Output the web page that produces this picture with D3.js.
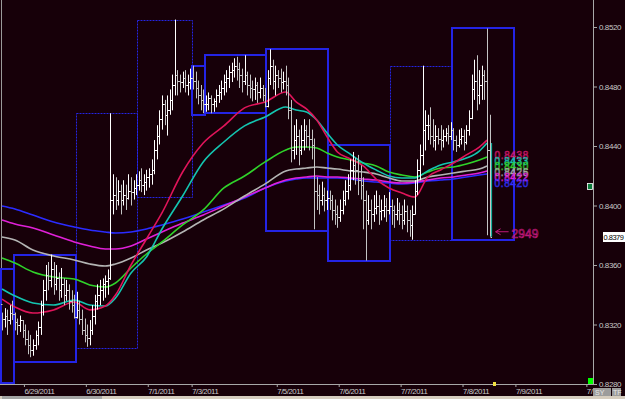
<!DOCTYPE html>
<html>
<head>
<meta charset="utf-8">
<script src="https://cdn.jsdelivr.net/npm/d3@7"></script>
<style>
  html, body { margin: 0; padding: 0; background: #170009; }
  svg { display: block; }
  text { font-family: "Liberation Sans", Arial, sans-serif; }
</style>
</head>
<body>
<div id="chart"></div>
<script>
//---------------------------DATA--------------------------------------------------------
// hourly bars, the open of a bar is the close of the bar before it
const firstOpen = 0.8334;
const barHigh = [
  0.8328, 0.8331, 0.8330, 0.8333, 0.8336,
  0.8328, 0.8324, 0.8326, 0.8323, 0.8320, 0.8316, 0.8313, 0.8310, 0.8316, 0.8322,
  0.8336, 0.8350, 0.8360, 0.8362, 0.8367, 0.8362, 0.8360, 0.8355, 0.8358, 0.8351,
  0.8350, 0.8347, 0.8343, 0.8340,
  0.8342, 0.8336, 0.8330, 0.8324, 0.8320, 0.8323, 0.8333, 0.8340, 0.8347, 0.8350,
  0.8351, 0.8353, 0.8357, 0.8462, 0.8421, 0.8419, 0.8417, 0.8414, 0.8417, 0.8414,
  0.8421, 0.8419, 0.8417, 0.8421,
  0.8423, 0.8425, 0.8421, 0.8424, 0.8425, 0.8431, 0.8444, 0.8454, 0.8464, 0.8474,
  0.8471, 0.8474, 0.8478, 0.8488, 0.8525, 0.8491, 0.8488, 0.8490, 0.8491, 0.8488, 0.8492,
  0.8494, 0.8490, 0.8484, 0.8481, 0.8478,
  0.8474, 0.8476, 0.8474, 0.8472, 0.8478, 0.8481, 0.8484, 0.8488, 0.8491, 0.8494,
  0.8496, 0.8499, 0.8500, 0.8496, 0.8492, 0.8501, 0.8490, 0.8488, 0.8484, 0.8486,
  0.8483, 0.8486, 0.8481, 0.8479,
  0.8491, 0.8505, 0.8498, 0.8494, 0.8491, 0.8492, 0.8490, 0.8494, 0.8486, 0.8471,
  0.8454, 0.8458, 0.8451, 0.8454, 0.8458, 0.8454, 0.8458, 0.8451, 0.8445, 0.8419,
  0.8414, 0.8416, 0.8412, 0.8410,
  0.8410, 0.8407, 0.8404, 0.8400, 0.8404, 0.8410, 0.8417, 0.8421, 0.8431, 0.8436,
  0.8432, 0.8434, 0.8427, 0.8419, 0.8410, 0.8407, 0.8404, 0.8407, 0.8410, 0.8407,
  0.8404, 0.8407, 0.8405, 0.8409,
  0.8404, 0.8400, 0.8405, 0.8402, 0.8400, 0.8404, 0.8400, 0.8397, 0.8400, 0.8417,
  0.8431, 0.8441, 0.8494, 0.8464, 0.8461, 0.8466, 0.8458, 0.8454, 0.8452, 0.8454,
  0.8451, 0.8452, 0.8454, 0.8456,
  0.8452, 0.8447, 0.8451, 0.8452, 0.8451, 0.8454, 0.8464, 0.8488, 0.8498, 0.8501,
  0.8491, 0.8494, 0.8491, 0.8519, 0.8461
];
const barLow = [
  0.8316, 0.8318, 0.8313, 0.8320, 0.8323,
  0.8316, 0.8313, 0.8315, 0.8311, 0.8306, 0.8300, 0.8298, 0.8299, 0.8303, 0.8306,
  0.8313, 0.8326, 0.8336, 0.8343, 0.8345, 0.8340, 0.8343, 0.8336, 0.8338, 0.8333,
  0.8336, 0.8330, 0.8328, 0.8324,
  0.8324, 0.8320, 0.8313, 0.8308, 0.8305, 0.8306, 0.8313, 0.8320, 0.8330, 0.8333,
  0.8336, 0.8338, 0.8340, 0.8350, 0.8394, 0.8397, 0.8400, 0.8394, 0.8400, 0.8397,
  0.8404, 0.8400, 0.8404, 0.8407,
  0.8410, 0.8409, 0.8407, 0.8410, 0.8412, 0.8414, 0.8421, 0.8431, 0.8441, 0.8451,
  0.8454, 0.8447, 0.8461, 0.8464, 0.8474, 0.8474, 0.8476, 0.8479, 0.8476, 0.8474, 0.8478,
  0.8478, 0.8472, 0.8468, 0.8464, 0.8462,
  0.8463, 0.8464, 0.8462, 0.8463, 0.8466, 0.8469, 0.8471, 0.8474, 0.8476, 0.8479,
  0.8483, 0.8486, 0.8484, 0.8479, 0.8476, 0.8481, 0.8474, 0.8472, 0.8470, 0.8471,
  0.8469, 0.8472, 0.8470, 0.8466,
  0.8466, 0.8481, 0.8478, 0.8474, 0.8479, 0.8476, 0.8478, 0.8474, 0.8458, 0.8429,
  0.8431, 0.8434, 0.8427, 0.8434, 0.8437, 0.8439, 0.8437, 0.8431, 0.8384, 0.8397,
  0.8394, 0.8400, 0.8396, 0.8397,
  0.8397, 0.8390, 0.8387, 0.8385, 0.8389, 0.8394, 0.8400, 0.8404, 0.8410, 0.8417,
  0.8414, 0.8407, 0.8404, 0.8384, 0.8363, 0.8387, 0.8384, 0.8389, 0.8394, 0.8387,
  0.8390, 0.8392, 0.8389, 0.8394,
  0.8387, 0.8385, 0.8390, 0.8387, 0.8384, 0.8387, 0.8382, 0.8379, 0.8377, 0.8394,
  0.8407, 0.8417, 0.8427, 0.8437, 0.8444, 0.8441, 0.8439, 0.8437, 0.8441, 0.8437,
  0.8439, 0.8443, 0.8441, 0.8444,
  0.8437, 0.8436, 0.8439, 0.8441, 0.8437, 0.8441, 0.8447, 0.8458, 0.8471, 0.8464,
  0.8468, 0.8471, 0.8471, 0.8380, 0.8379
];
const barClose = [
  0.8324, 0.8326, 0.8323, 0.8328, 0.8327,
  0.8322, 0.8320, 0.8323, 0.8316, 0.8310, 0.8306, 0.8303, 0.8306, 0.8313, 0.8318,
  0.8333, 0.8343, 0.8353, 0.8350, 0.8357, 0.8347, 0.8351, 0.8343, 0.8347, 0.8340,
  0.8343, 0.8336, 0.8333, 0.8325,
  0.8330, 0.8324, 0.8316, 0.8313, 0.8311, 0.8316, 0.8326, 0.8336, 0.8340, 0.8343,
  0.8347, 0.8349, 0.8351, 0.8404, 0.8407, 0.8404, 0.8410, 0.8404, 0.8407, 0.8405,
  0.8410, 0.8409, 0.8412, 0.8414,
  0.8417, 0.8414, 0.8416, 0.8419, 0.8421, 0.8424, 0.8437, 0.8447, 0.8458, 0.8468,
  0.8461, 0.8464, 0.8471, 0.8481, 0.8488, 0.8484, 0.8483, 0.8486, 0.8481, 0.8483, 0.8486,
  0.8484, 0.8479, 0.8474, 0.8471, 0.8468,
  0.8468, 0.8472, 0.8468, 0.8470, 0.8474, 0.8476, 0.8479, 0.8483, 0.8486, 0.8490,
  0.8491, 0.8494, 0.8492, 0.8488, 0.8484, 0.8488, 0.8481, 0.8479, 0.8478, 0.8481,
  0.8476, 0.8479, 0.8474, 0.8467,
  0.8486, 0.8494, 0.8484, 0.8488, 0.8486, 0.8483, 0.8484, 0.8481, 0.8464, 0.8437,
  0.8444, 0.8447, 0.8437, 0.8444, 0.8451, 0.8447, 0.8445, 0.8441, 0.8410, 0.8407,
  0.8404, 0.8407, 0.8404, 0.8405,
  0.8404, 0.8397, 0.8394, 0.8392, 0.8397, 0.8404, 0.8410, 0.8414, 0.8424, 0.8427,
  0.8424, 0.8417, 0.8414, 0.8404, 0.8390, 0.8397, 0.8394, 0.8398, 0.8400, 0.8396,
  0.8397, 0.8400, 0.8397, 0.8400,
  0.8397, 0.8394, 0.8397, 0.8394, 0.8390, 0.8396, 0.8390, 0.8387, 0.8394, 0.8410,
  0.8424, 0.8434, 0.8451, 0.8454, 0.8454, 0.8447, 0.8444, 0.8447, 0.8445, 0.8444,
  0.8447, 0.8449, 0.8447, 0.8451,
  0.8444, 0.8441, 0.8445, 0.8447, 0.8443, 0.8451, 0.8459, 0.8478, 0.8484, 0.8474,
  0.8481, 0.8488, 0.8484, 0.8437, 0.8379
];

// trading sessions (first and last bar index) with their high/low boxes
const sessionFirst = [0, 5, 29, 53, 74, 79, 103, 127, 151, 175];
const sessionLast = [4, 28, 52, 73, 78, 102, 126, 150, 174, 198];
const sessionHigh = [0.8357, 0.8367, 0.8462, 0.8525, 0.8494, 0.8501, 0.8505, 0.8441, 0.8494, 0.8519];
const sessionLow = [0.8281, 0.8295, 0.8304, 0.8406, 0.8461, 0.8462, 0.8383, 0.8363, 0.8377, 0.8377];

// moving averages, read at these bar indices
const maBars = [0, 5, 12, 20, 28, 34, 40, 44, 50, 56, 62, 70, 78, 86, 94, 102, 110,
  114, 118, 122, 126, 130, 135, 140, 145, 150, 155, 160, 165, 170, 175, 180, 185, 188];
const maRed = [0.83371, 0.83318, 0.83277, 0.83298, 0.83351, 0.83298, 0.83324, 0.83398, 0.83600,
  0.83775, 0.83950, 0.84225, 0.84420, 0.84535, 0.84656, 0.84696, 0.84763, 0.84696, 0.84649,
  0.84575, 0.84461, 0.84360, 0.84313, 0.84266, 0.84178, 0.84118, 0.84084, 0.84057, 0.84192,
  0.84239, 0.84286, 0.84340, 0.84393, 0.84440];
const maTeal = [0.83439, 0.83392, 0.83345, 0.83331, 0.83365, 0.83331, 0.83324, 0.83378, 0.83546,
  0.83654, 0.83842, 0.84064, 0.84293, 0.84427, 0.84535, 0.84595, 0.84662, 0.84642, 0.84629,
  0.84575, 0.84487, 0.84407, 0.84346, 0.84286, 0.84239, 0.84198, 0.84185, 0.84185, 0.84232,
  0.84272, 0.84293, 0.84319, 0.84366, 0.84420];
const maGreen = [0.83647, 0.83613, 0.83553, 0.83519, 0.83506, 0.83466, 0.83452, 0.83479, 0.83580,
  0.83674, 0.83755, 0.83869, 0.83970, 0.84118, 0.84198, 0.84293, 0.84373, 0.84393, 0.84393,
  0.84387, 0.84353, 0.84326, 0.84306, 0.84286, 0.84266, 0.84225, 0.84205, 0.84192, 0.84225,
  0.84252, 0.84259, 0.84279, 0.84306, 0.84326];
const maGray = [0.83788, 0.83768, 0.83701, 0.83661, 0.83634, 0.83607, 0.83593, 0.83607, 0.83647,
  0.83701, 0.83748, 0.83822, 0.83903, 0.83977, 0.84064, 0.84145, 0.84232, 0.84245, 0.84252,
  0.84259, 0.84252, 0.84245, 0.84232, 0.84225, 0.84212, 0.84185, 0.84165, 0.84165, 0.84192,
  0.84205, 0.84219, 0.84232, 0.84245, 0.84266];
const maMagenta = [0.83903, 0.83876, 0.83849, 0.83802, 0.83755, 0.83728, 0.83708, 0.83708, 0.83728,
  0.83775, 0.83822, 0.83882, 0.83936, 0.83997, 0.84057, 0.84118, 0.84171, 0.84185, 0.84192,
  0.84198, 0.84192, 0.84192, 0.84185, 0.84178, 0.84171, 0.84158, 0.84151, 0.84158, 0.84171,
  0.84185, 0.84192, 0.84205, 0.84219, 0.84232];
const maBlue = [0.83997, 0.83977, 0.83936, 0.83889, 0.83856, 0.83835, 0.83822, 0.83815, 0.83822,
  0.83842, 0.83869, 0.83909, 0.83956, 0.84003, 0.84050, 0.84118, 0.84165, 0.84178, 0.84185,
  0.84185, 0.84185, 0.84185, 0.84178, 0.84165, 0.84158, 0.84151, 0.84145, 0.84151, 0.84165,
  0.84171, 0.84178, 0.84192, 0.84205, 0.84212];
const maLabels = ["0.8438", "0.8433", "0.8430", "0.8426", "0.8422", "0.8420"];

// axes
const priceTicks = [0.8280, 0.8320, 0.8360, 0.8400, 0.8440, 0.8480, 0.8520];
const dateLabels = ["6/29/2011", "6/30/2011", "7/1/2011", "7/3/2011", "7/5/2011",
  "7/6/2011", "7/7/2011", "7/8/2011", "7/9/2011", "7/10/2011"];
const dateBars = [8.5, 32.5, 56.5, 73.5, 106.5, 130.5, 154.5, 178.5, 199, 226.5];
const lastPrice = 0.8379;
const counterText = "2949";

//---------------------------CHART--------------------------------------------------------
const W = 625, H = 399;
const plotRight = 593, plotBottom = 384;
const bg = "#170009";
const boxColor = "#2424e4";

const svg = d3.select("#chart")
    .append("svg")
    .attr("width", W)
    .attr("height", H);

svg.append("rect").attr("width", W).attr("height", H).attr("fill", bg);

svg.append("clipPath").attr("id", "plotclip")
    .append("rect").attr("x", 0).attr("y", 0).attr("width", plotRight).attr("height", plotBottom);
svg.append("clipPath").attr("id", "dateclip")
    .append("rect").attr("x", 0).attr("y", plotBottom).attr("width", plotRight).attr("height", 12);

const x = d3.scaleLinear().domain([0, 227]).range([2, 2 + 227 * 2.58]);
const y = d3.scaleLinear().domain([0.8280, 0.8520]).range([plotBottom, 27]);

const plot = svg.append("g").attr("clip-path", "url(#plotclip)");

// left border line
plot.append("line")
    .attr("x1", 1.5).attr("x2", 1.5).attr("y1", 0).attr("y2", plotBottom)
    .attr("stroke", "#9a9a9a").attr("stroke-width", 1);

// session boxes: up sessions thin dotted, down sessions thick solid
const sessions = sessionFirst.map((f, k) => {
    const last = Math.min(sessionLast[k], barClose.length - 1);
    const open = f === 0 ? firstOpen : barClose[f - 1];
    return {
        x0: Math.max(x(f - 0.5), 0),
        x1: x(sessionLast[k] + 0.5),
        hi: sessionHigh[k],
        lo: sessionLow[k],
        down: barClose[last] < open
    };
});
sessions.sort((a, b) => (a.down === b.down ? 0 : a.down ? 1 : -1));

plot.selectAll("rect.session")
    .data(sessions)
    .join("rect")
    .attr("class", "session")
    .attr("x", d => Math.round(d.x0) + (d.down ? 0 : 0.5))
    .attr("y", d => Math.round(y(d.hi)) + (d.down ? 0 : 0.5))
    .attr("width", d => Math.round(d.x1) - Math.round(d.x0))
    .attr("height", d => Math.round(y(d.lo)) - Math.round(y(d.hi)))
    .attr("fill", "none")
    .attr("stroke", boxColor)
    .attr("stroke-width", d => d.down ? 2 : 1)
    .attr("stroke-dasharray", d => d.down ? null : "2,1");

// moving averages
const maSeries = [
    { values: maBlue, color: "#2b2bff" },
    { values: maMagenta, color: "#e020d8" },
    { values: maGray, color: "#b4b4b4" },
    { values: maGreen, color: "#30d22a" },
    { values: maTeal, color: "#14c4b0" },
    { values: maRed, color: "#e0145a" }
];
const maLine = d3.line()
    .x((d, i) => x(maBars[i]))
    .y(d => y(d))
    .curve(d3.curveMonotoneX);

plot.selectAll("path.ma")
    .data(maSeries)
    .join("path")
    .attr("class", "ma")
    .attr("d", d => maLine(d.values))
    .attr("fill", "none")
    .attr("stroke", d => d.color)
    .attr("stroke-width", 1.6);

// OHLC bars
const bars = barHigh.map((h, i) => ({
    i: i,
    open: i === 0 ? firstOpen : barClose[i - 1],
    high: h,
    low: barLow[i],
    close: barClose[i]
}));

function barPath(d) {
    const cx = Math.round(x(d.i)) + 0.5;
    const yo = Math.round(y(d.open)) + 0.5;
    const yc = Math.round(y(d.close)) + 0.5;
    return `M${cx},${y(d.high)}V${y(d.low)}` +
        `M${cx - 1.5},${yo}H${cx}` +
        `M${cx},${yc}H${cx + 1.5}`;
}

plot.selectAll("path.bar")
    .data(bars)
    .join("path")
    .attr("class", "bar")
    .attr("d", barPath)
    .attr("fill", "none")
    .attr("stroke", d => d.close >= d.open ? "#ffffff" : "#c4c4c4")
    .attr("stroke-width", 1);

// last price marker line and counter arrow
const lastX = x(bars.length - 1) + 2;
plot.append("line")
    .attr("x1", lastX).attr("x2", lastX)
    .attr("y1", y(maTeal[maTeal.length - 1])).attr("y2", y(lastPrice))
    .attr("stroke", "#14c4b0").attr("stroke-width", 1);

const arrowY = y(lastPrice) - 5;
plot.append("path")
    .attr("d", `M${lastX + 4},${arrowY}H${lastX + 17}M${lastX + 4},${arrowY}l5,-3M${lastX + 4},${arrowY}l5,3`)
    .attr("stroke", "#c0187a").attr("stroke-width", 1).attr("fill", "none");

plot.append("text")
    .attr("x", lastX + 20).attr("y", arrowY + 6)
    .attr("font-size", 12)
    .attr("font-family", "DejaVu Sans Mono, monospace")
    .attr("fill", "none").attr("stroke", "#c0187a").attr("stroke-width", 0.7)
    .text(counterText);

// moving average value labels (stacked, hollow like the terminal font)
const labelColors = ["#d0186a", "#14c4b0", "#30d22a", "#a8a8a8", "#e020d8", "#3030ff"];
plot.selectAll("text.malabel")
    .data(maLabels)
    .join("text")
    .attr("class", "malabel")
    .attr("x", lastX + 3)
    .attr("y", (d, i) => 159 + i * 5.6)
    .attr("font-size", 10)
    .attr("letter-spacing", "0.6px")
    .attr("font-family", "DejaVu Sans Mono, monospace")
    .attr("fill", "none")
    .attr("stroke", (d, i) => labelColors[i])
    .attr("stroke-width", 0.6)
    .text(d => d);

// axis frame lines
svg.append("line")
    .attr("x1", plotRight + 0.5).attr("x2", plotRight + 0.5).attr("y1", 0).attr("y2", plotBottom)
    .attr("stroke", "#a8a8a8");
svg.append("line")
    .attr("x1", 0).attr("x2", plotRight).attr("y1", plotBottom + 0.5).attr("y2", plotBottom + 0.5)
    .attr("stroke", "#a8a8a8");

// price axis
const yAxis = d3.axisRight(y)
    .tickValues(priceTicks)
    .tickSize(4)
    .tickPadding(2)
    .tickFormat(d3.format(".4f"));
const yg = svg.append("g").attr("transform", `translate(${plotRight},0)`).call(yAxis);
yg.select(".domain").remove();
yg.selectAll(".tick line").attr("stroke", "#a8a8a8");
yg.selectAll(".tick text")
    .attr("fill", "#c8c8c8")
    .attr("font-size", 8)
    .attr("letter-spacing", "-0.4px")
    .attr("font-family", "Liberation Sans, Arial, sans-serif");

// date axis (clipped at the price scale like the terminal does)
const xAxis = d3.axisBottom(x)
    .tickValues(dateBars)
    .tickSize(3)
    .tickFormat((d, i) => dateLabels[i]);
const xg = svg.append("g")
    .attr("clip-path", "url(#dateclip)")
    .append("g")
    .attr("transform", `translate(0,${plotBottom})`)
    .call(xAxis);
xg.select(".domain").remove();
xg.selectAll(".tick line").attr("stroke", "#a8a8a8");
xg.selectAll(".tick text")
    .attr("fill", "#cacaca")
    .attr("font-size", 7.8)
    .attr("letter-spacing", "-0.45px")
    .attr("font-family", "Liberation Sans, Arial, sans-serif")
    .attr("text-anchor", "start")
    .attr("x", 0)
    .attr("y", 9.5)
    .attr("dy", 0);

// current price box
const py = Math.round(y(lastPrice));
svg.append("rect")
    .attr("x", 603).attr("y", py - 5).attr("width", 22).attr("height", 10)
    .attr("fill", "#ffffff");
svg.append("text")
    .attr("x", 603.5).attr("y", py + 3)
    .attr("font-size", 7.5).attr("letter-spacing", "-0.5px")
    .attr("fill", "#000000")
    .text(d3.format(".4f")(lastPrice));

// small widgets: scroll icon, green marker, yellow marker, SY/TF buttons
svg.append("rect").attr("x", 587.5).attr("y", 183.5).attr("width", 5).attr("height", 6)
    .attr("fill", "#0a7a3a").attr("stroke", "#ffffff").attr("stroke-width", 0.8);
svg.append("rect").attr("x", 588).attr("y", 378).attr("width", 5).attr("height", 6)
    .attr("fill", "#00ff00");
svg.append("rect").attr("x", 493).attr("y", 382).attr("width", 3).attr("height", 4)
    .attr("fill", "#f0e040");

const btn = svg.append("g").attr("transform", "translate(593,388)");
btn.append("rect").attr("x", 0).attr("y", 0).attr("width", 18).attr("height", 8).attr("fill", "#9c9c9c");
btn.append("rect").attr("x", 19).attr("y", 0).attr("width", 9).attr("height", 8).attr("fill", "#9c9c9c");
btn.append("text").attr("x", 2).attr("y", 7).attr("font-size", 7).attr("fill", "#e8e8e8").text("SY");
btn.append("text").attr("x", 20).attr("y", 7).attr("font-size", 7).attr("fill", "#e8e8e8").text("TF");

// scroll strip
svg.append("rect").attr("x", 0).attr("y", 396).attr("width", W).attr("height", 3).attr("fill", "#d6cdbf");
svg.append("rect").attr("x", 2).attr("y", 396).attr("width", 100).attr("height", 3).attr("fill", "#a4a4a4");
</script>
</body>
</html>
